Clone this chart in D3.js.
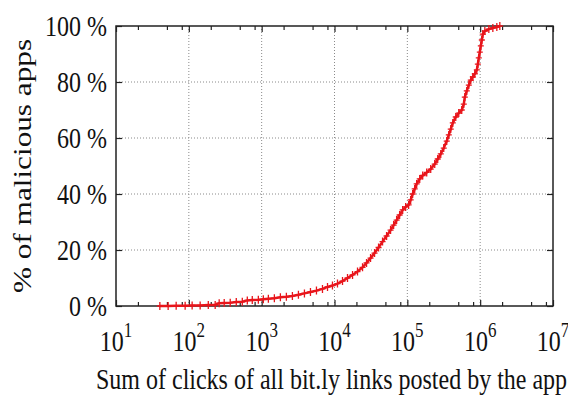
<!DOCTYPE html>
<html>
<head>
<meta charset="utf-8">
<script src="https://cdn.jsdelivr.net/npm/d3@7"></script>
</head>
<body style="margin:0">
<div id="chart"></div>
<script>
// Sum of clicks per app (x) and cumulative % of malicious apps (y)
const clicks = [40, 52, 67, 89, 111, 143, 185, 230, 261, 306, 370, 448, 542, 635, 743, 900,
    1054, 1236, 1494, 1807, 2184, 2642, 3197, 3866, 4677, 5653, 6839, 8017, 9377, 10990,
    12880, 15090, 17690, 20700, 24270, 27540, 31260, 35480, 40270, 45700, 51880, 58880,
    64860, 71290, 78380, 86300, 94840, 104200, 111100, 118300, 126200, 134300, 147900,
    162600, 184500, 209400, 237700, 261300, 287700, 316200, 347500, 370700, 394500,
    420700, 462400, 508200, 558500, 595700, 615200, 654600, 698200, 743000, 792500,
    843400, 899500, 929000, 957000, 988500, 1020000, 1054000, 1087000, 1159000, 1315000,
    1493000, 1694000, 1862000];
const pctApps = [0, 0, 0.1, 0.1, 0.2, 0.2, 0.4, 0.4, 1.0, 1.1, 1.2, 1.4, 1.5, 2.0, 2.1, 2.2,
    2.4, 2.6, 2.8, 3.1, 3.3, 3.6, 4.0, 4.5, 5.0, 5.5, 6.1, 6.8, 7.3, 8.0,
    8.9, 10.0, 11.1, 12.3, 13.8, 15.4, 17.1, 18.9, 20.9, 23.0, 25.0, 27.1,
    28.9, 30.7, 32.5, 34.3, 35.4, 36.1, 37.9, 40.0, 41.8, 43.6, 45.4,
    46.6, 47.7, 48.9, 50.7, 52.5, 54.3, 56.4, 58.9, 61.1, 63.2,
    65.4, 67.5, 68.9, 70.0, 72.1, 74.6, 76.8, 78.9, 80.7, 81.8,
    82.9, 84.3, 86.4, 88.6, 90.7, 92.9, 95.0, 97.1, 98.2, 98.9,
    99.3, 99.6, 100];

const xExponents = [1, 2, 3, 4, 5, 6, 7];
const xMinorMultipliers = [2, 5, 8];
const yTicks = [0, 20, 40, 60, 80, 100];

const width = 568;
const height = 396;
const margin = {top: 26, right: 15, bottom: 90, left: 116};
const serif = "'Liberation Serif'";
const stretch = 1.25;   // the original text is drawn taller than wide

const data = clicks.map((c, i) => ({clicks: c, pct: pctApps[i]}));

const svg = d3.select("#chart")
    .append("svg")
    .attr("width", width)
    .attr("height", height);

const x = d3.scaleLog()
    .domain([10, 1e7])
    .range([margin.left, width - margin.right]);

const y = d3.scaleLinear()
    .domain([0, 100])
    .range([height - margin.bottom, margin.top]);

const x0 = margin.left, x1 = width - margin.right;
const y0 = height - margin.bottom, y1 = margin.top;

const majorX = xExponents.map(e => Math.pow(10, e));
const minorX = [];
xExponents.slice(0, -1).forEach(e => {
    xMinorMultipliers.forEach(m => minorX.push(m * Math.pow(10, e)));
});

// Axis titles
svg.append("text")
    .attr("transform", `translate(96,389) scale(1,${stretch})`)
    .attr("fill", "#111")
    .style("font-family", serif)
    .style("font-size", "24px")
    .text("Sum of clicks of all bit.ly links posted by the app");

svg.append("text")
    .attr("transform", `translate(31,${(y0 + y1) / 2}) scale(1,${stretch}) rotate(-90)`)
    .attr("text-anchor", "middle")
    .attr("fill", "#111")
    .style("font-family", serif)
    .style("font-size", "25px")
    .text("% of malicious apps");

// Y tick labels
yTicks.forEach(v => {
    svg.append("text")
        .attr("transform", `translate(${x0 - 9},${y(v)}) scale(1,${stretch})`)
        .attr("dy", "0.34em")
        .attr("text-anchor", "end")
        .attr("fill", "#111")
        .style("font-family", serif)
        .style("font-size", "24px")
        .text(v + " %");
});

// X tick labels: 10 with superscript exponent
xExponents.forEach(e => {
    const t = svg.append("text")
        .attr("transform", `translate(${x(Math.pow(10, e))},351) scale(1,${stretch})`)
        .attr("text-anchor", "middle")
        .attr("fill", "#111")
        .style("font-family", serif)
        .style("font-size", "24px");
    t.append("tspan").text("10");
    t.append("tspan").attr("dy", -11).style("font-size", "17px").text(e);
});

// Grid (dotted)
const grid = svg.append("g")
    .attr("stroke", "#8a8a8a")
    .attr("stroke-width", 1)
    .attr("stroke-dasharray", "1,2");

grid.selectAll(".vgrid")
    .data(majorX.slice(1, -1))
    .enter()
    .append("line")
    .attr("x1", d => x(d)).attr("x2", d => x(d))
    .attr("y1", y0).attr("y2", y1);

grid.selectAll(".hgrid")
    .data(yTicks.slice(1, -1))
    .enter()
    .append("line")
    .attr("x1", x0).attr("x2", x1)
    .attr("y1", d => y(d)).attr("y2", d => y(d));

// Ticks (inward, on all four sides)
svg.append("g")
    .attr("transform", `translate(0,${y0})`)
    .call(d3.axisBottom(x).tickValues(majorX).tickSize(-6).tickFormat(""));
svg.append("g")
    .attr("transform", `translate(0,${y0})`)
    .call(d3.axisBottom(x).tickValues(minorX).tickSize(-4).tickFormat(""));
svg.append("g")
    .attr("transform", `translate(0,${y1})`)
    .call(d3.axisTop(x).tickValues(majorX).tickSize(-6).tickFormat(""));
svg.append("g")
    .attr("transform", `translate(0,${y1})`)
    .call(d3.axisTop(x).tickValues(minorX).tickSize(-4).tickFormat(""));
svg.append("g")
    .attr("transform", `translate(${x0},0)`)
    .call(d3.axisLeft(y).tickValues(yTicks).tickSize(-6).tickFormat(""));
svg.append("g")
    .attr("transform", `translate(${x1},0)`)
    .call(d3.axisRight(y).tickValues(yTicks).tickSize(-6).tickFormat(""));

svg.selectAll(".domain").remove();
svg.selectAll(".tick line").attr("stroke", "#222").attr("stroke-width", 1.2);

// Frame
svg.append("rect")
    .attr("x", x0).attr("y", y1)
    .attr("width", x1 - x0).attr("height", y0 - y1)
    .attr("fill", "none")
    .attr("stroke", "#222")
    .attr("stroke-width", 1.5);

// Curve: thin line plus "+" markers
const line = d3.line().x(d => x(d.clicks)).y(d => y(d.pct));
svg.append("path")
    .datum(data)
    .attr("fill", "none")
    .attr("stroke", "#e8151b")
    .attr("stroke-width", 2.5)
    .attr("d", line);

const s = 3;
svg.append("g")
    .selectAll("path")
    .data(data)
    .enter()
    .append("path")
    .attr("transform", d => `translate(${x(d.clicks)},${y(d.pct)})`)
    .attr("d", `M${-s},0H${s}M0,${-s - 1}V${s + 1}`)
    .attr("stroke", "#e8151b")
    .attr("stroke-width", 1.3)
    .attr("fill", "none");
</script>
</body>
</html>
